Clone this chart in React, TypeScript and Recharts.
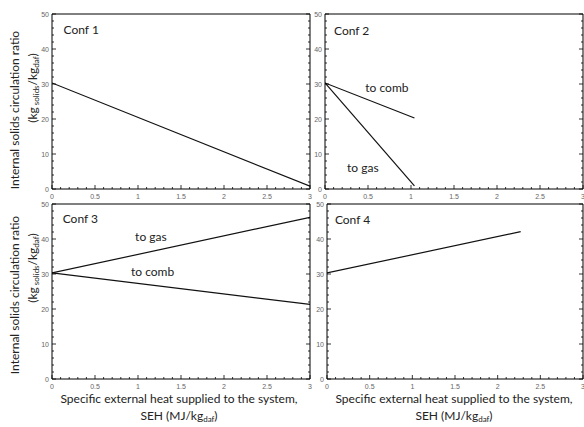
import React from "react";
import { LineChart, Line, XAxis, YAxis, ReferenceDot } from "recharts";

const W = 584;
const H = 427;

// tick values (major ones get labels)
const xMajor = [0, 0.5, 1, 1.5, 2, 2.5, 3];
const yMajor = [0, 10, 20, 30, 40, 50];
const xTicks = Array.from({ length: 31 }, (_, i) => i / 10);
const yTicks = Array.from({ length: 26 }, (_, i) => i * 2);

// SEH (MJ/kg daf) vs internal solids circulation ratio
const conf1 = [{ x: 0, y: 30.3 }, { x: 3, y: 0.8 }];
const conf2Comb = [{ x: 0, y: 30.3 }, { x: 1.04, y: 20.3 }];
const conf2Gas = [{ x: 0, y: 30.3 }, { x: 1.04, y: 0.9 }];
const conf3Gas = [{ x: 0, y: 30.3 }, { x: 3, y: 46.2 }];
const conf3Comb = [{ x: 0, y: 30.3 }, { x: 3, y: 21.3 }];
const conf4 = [{ x: 0, y: 30.3 }, { x: 2.27, y: 42.1 }];

const notes1 = [{ text: "Conf 1", x: 0.34, y: 45.4 }];
const notes2 = [
  { text: "Conf 2", x: 0.31, y: 45.2 },
  { text: "to comb", x: 0.72, y: 28.9 },
  { text: "to gas", x: 0.44, y: 6.0 },
];
const notes3 = [
  { text: "Conf 3", x: 0.33, y: 45.7 },
  { text: "to gas", x: 1.15, y: 40.6 },
  { text: "to comb", x: 1.17, y: 30.6 },
];
const notes4 = [{ text: "Conf 4", x: 0.3, y: 45.4 }];

const TITLE_FONT = "Lato, 'Open Sans', sans-serif";
const TICK_FONT = "'Liberation Sans', Arial, sans-serif";

const isMajor = (v: number, step: number) => Math.abs(Math.round(v / step) * step - v) < 1e-6;

const fmt = (v: number) => String(Math.round(v * 10) / 10);

function BottomTick(p: any) {
  const v = p.payload.value;
  const major = xMajor.some((m) => Math.abs(m - v) < 1e-6);
  return (
    <g>
      <line x1={p.x} x2={p.x} y1={p.y} y2={p.y - (major ? 4 : 2)} stroke="#000" strokeWidth={0.8} />
      {major && (
        <text x={p.x} y={p.y + 10} textAnchor="middle" fontSize={7} fill="#666" fontFamily={TICK_FONT}>
          {fmt(v)}
        </text>
      )}
    </g>
  );
}

function TopTick(p: any) {
  const major = isMajor(p.payload.value, 0.5);
  return <line x1={p.x} x2={p.x} y1={p.y} y2={p.y + (major ? 4 : 2)} stroke="#000" strokeWidth={0.8} />;
}

function LeftTick(p: any) {
  const v = p.payload.value;
  const major = yMajor.includes(v);
  return (
    <g>
      <line x1={p.x} x2={p.x + (major ? 4 : 2)} y1={p.y} y2={p.y} stroke="#000" strokeWidth={0.8} />
      {major && (
        <text x={p.x - 3} y={p.y + 2.5} textAnchor="end" fontSize={7} fill="#666" fontFamily={TICK_FONT}>
          {v}
        </text>
      )}
    </g>
  );
}

function RightTick(p: any) {
  const major = isMajor(p.payload.value, 10);
  return <line x1={p.x} x2={p.x - (major ? 4 : 2)} y1={p.y} y2={p.y} stroke="#000" strokeWidth={0.8} />;
}

function YTitle({ c1, c2 }: { c1: number; c2: number }) {
  return (
    <g fontFamily={TITLE_FONT} fontSize={12} fill="#222">
      <text transform={`translate(19, ${c1}) rotate(-90)`} textAnchor="middle">
        Internal solids circulation ratio
      </text>
      <text transform={`translate(37, ${c2}) rotate(-90)`} textAnchor="middle">
        (kg<tspan fontSize={8} dy={2}> solids</tspan>
        <tspan dy={-2}>/kg</tspan>
        <tspan fontSize={8} dy={2}>daf</tspan>
        <tspan dy={-2}>)</tspan>
      </text>
    </g>
  );
}

function XTitle({ cx }: { cx: number }) {
  return (
    <g fontFamily={TITLE_FONT} fontSize={12} fill="#222">
      <text x={cx} y={403} textAnchor="middle">
        Specific external heat supplied to the system,
      </text>
      <text x={cx} y={420} textAnchor="middle">
        SEH (MJ/kg<tspan fontSize={8} dy={2}>daf</tspan>
        <tspan dy={-2}>)</tspan>
      </text>
    </g>
  );
}

type Box = { left: number; right: number; top: number; bottom: number };
type Pt = { x: number; y: number };
type Note = { text: string; x: number; y: number };

function Panel({
  box,
  series,
  notes,
  yTitle,
  xTitle,
}: {
  box: Box;
  series: Pt[][];
  notes: Note[];
  yTitle?: { c1: number; c2: number };
  xTitle?: number;
}) {
  // each axis takes 1px outside the plot box
  const margin = { left: box.left - 1, top: box.top - 1, right: W - box.right - 1, bottom: H - box.bottom - 1 };
  return (
    <div style={{ position: "absolute", left: 0, top: 0 }}>
      <LineChart width={W} height={H} margin={margin}>
        <XAxis
          xAxisId="b"
          type="number"
          dataKey="x"
          domain={[0, 3]}
          ticks={xTicks}
          interval={0}
          height={1}
          tickSize={0}
          tickMargin={0}
          tickLine={false}
          tick={(p: any) => <BottomTick {...p} />}
          axisLine={{ stroke: "#000", strokeWidth: 1 }}
          allowDataOverflow
          label={xTitle !== undefined ? { content: () => <XTitle cx={xTitle} /> } : undefined}
        />
        <XAxis
          xAxisId="t"
          orientation="top"
          type="number"
          domain={[0, 3]}
          ticks={xTicks}
          interval={0}
          height={1}
          tickSize={0}
          tickMargin={0}
          tickLine={false}
          tick={(p: any) => <TopTick {...p} />}
          axisLine={{ stroke: "#000", strokeWidth: 1 }}
          allowDataOverflow
        />
        <YAxis
          yAxisId="l"
          type="number"
          domain={[0, 50]}
          ticks={yTicks}
          interval={0}
          width={1}
          tickSize={0}
          tickMargin={0}
          tickLine={false}
          tick={(p: any) => <LeftTick {...p} />}
          axisLine={{ stroke: "#000", strokeWidth: 1 }}
          allowDataOverflow
          label={yTitle ? { content: () => <YTitle c1={yTitle.c1} c2={yTitle.c2} /> } : undefined}
        />
        <YAxis
          yAxisId="r"
          orientation="right"
          type="number"
          domain={[0, 50]}
          ticks={yTicks}
          interval={0}
          width={1}
          tickSize={0}
          tickMargin={0}
          tickLine={false}
          tick={(p: any) => <RightTick {...p} />}
          axisLine={{ stroke: "#000", strokeWidth: 1 }}
          allowDataOverflow
        />
        {series.map((d, i) => (
          <Line
            key={i}
            xAxisId="b"
            yAxisId="l"
            data={d}
            dataKey="y"
            type="linear"
            stroke="#111"
            strokeWidth={1.2}
            dot={false}
            isAnimationActive={false}
          />
        ))}
        {notes.map((n, i) => (
          <ReferenceDot
            key={i}
            xAxisId="b"
            yAxisId="l"
            x={n.x}
            y={n.y}
            r={0}
            shape={(p: any) => (
              <text
                x={p.cx}
                y={p.cy + 4}
                textAnchor="middle"
                fontFamily={TITLE_FONT}
                fontSize={12}
                fill="#222"
              >
                {n.text}
              </text>
            )}
          />
        ))}
      </LineChart>
    </div>
  );
}

export default function App() {
  return (
    <div style={{ position: "absolute", left: 0, top: 0, width: W, height: H, background: "#fff", overflow: "hidden" }}>
      <Panel
        box={{ left: 52, right: 310, top: 14, bottom: 189 }}
        series={[conf1]}
        notes={notes1}
        yTitle={{ c1: 110, c2: 88 }}
      />
      <Panel box={{ left: 325, right: 583, top: 14, bottom: 189 }} series={[conf2Comb, conf2Gas]} notes={notes2} />
      <Panel
        box={{ left: 52, right: 310, top: 204, bottom: 379 }}
        series={[conf3Gas, conf3Comb]}
        notes={notes3}
        yTitle={{ c1: 295, c2: 268 }}
        xTitle={179}
      />
      <Panel box={{ left: 327, right: 583, top: 204, bottom: 379 }} series={[conf4]} notes={notes4} xTitle={454} />
    </div>
  );
}
